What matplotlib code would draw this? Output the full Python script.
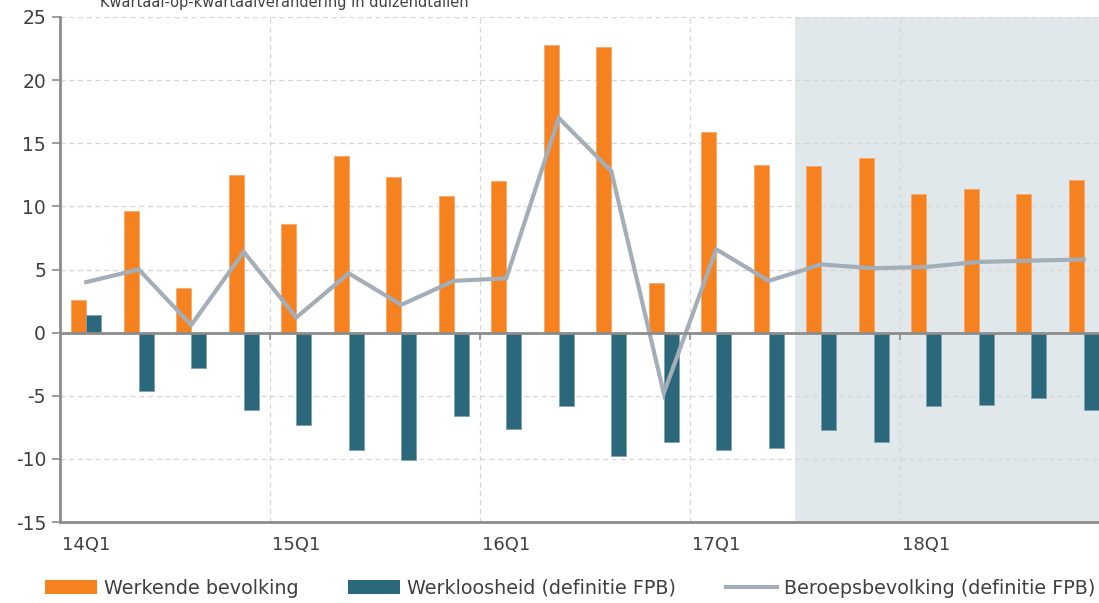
import matplotlib
matplotlib.use("Agg")
import matplotlib.pyplot as plt
import numpy as np
from matplotlib.patches import Patch
from matplotlib.lines import Line2D

plt.rcParams["font.family"] = ["DejaVu Sans"]

# quarters 14Q1 .. 18Q4
quarters = [f"{y}Q{q}" for y in range(14, 19) for q in range(1, 5)]
werkende = [2.6, 9.6, 3.5, 12.5, 8.6, 14.0, 12.3, 10.8, 12.0, 22.8,
            22.6, 3.9, 15.9, 13.3, 13.2, 13.8, 11.0, 11.4, 11.0, 12.1]
werkloos = [1.4, -4.6, -2.8, -6.1, -7.3, -9.3, -10.1, -6.6, -7.6, -5.8,
            -9.8, -8.7, -9.3, -9.1, -7.7, -8.7, -5.8, -5.7, -5.2, -6.1]
beroeps = [4.0, 5.0, 0.6, 6.4, 1.2, 4.7, 2.2, 4.1, 4.3, 17.0,
           12.8, -4.8, 6.6, 4.1, 5.4, 5.1, 5.2, 5.6, 5.7, 5.8]
forecast_start = "17Q3"
yticks = [-15, -10, -5, 0, 5, 10, 15, 20, 25]

ORANGE = "#F5821F"
TEAL = "#2C687B"
LINE = "#A3AEB9"
SHADE = "#E1E8EB"
AXC = "#8C8C8C"
TXT = "#404040"

W, H = 1099, 603
fig = plt.figure(figsize=(W / 100, H / 100), dpi=100)
step = 52.5  # px per quarter
ax = fig.add_axes([60 / W, (H - 522) / H, 1039 / W, 505 / H])

x = np.arange(len(quarters))
bw = 0.29
ax.bar(x - bw / 2, werkende, width=bw, color=ORANGE, edgecolor="#F8A868",
       linewidth=0.6, zorder=3)
ax.bar(x + bw / 2, werkloos, width=bw, color=TEAL, edgecolor="#7FA2AE",
       linewidth=0.6, zorder=3)
ax.plot(x, beroeps, color=LINE, linewidth=3, zorder=4, solid_joinstyle="miter")

xmin = -0.5
xmax = xmin + 1039 / step
fs = quarters.index(forecast_start) - 0.5
ax.axvspan(fs, xmax + 1, color=SHADE, zorder=0, linewidth=0)

ax.set_xlim(xmin, xmax)
ax.set_ylim(-15, 25)

# grids
for v in yticks[1:]:
    if v != 0:
        ax.axhline(v, color="#D6D6D6", linestyle=(0, (4, 3)), linewidth=0.9, zorder=1)
bounds = [i - 0.5 for i in range(4, len(quarters), 4)]
for b in bounds:
    ax.axvline(b, color="#D6D6D6", linestyle=(0, (4, 3)), linewidth=0.9, zorder=1)
ax.axhline(0, color=AXC, linewidth=2, zorder=5)
ax.vlines(bounds, -0.6, 0, color=AXC, linewidth=1.2, zorder=5)

for s in ["top", "right"]:
    ax.spines[s].set_visible(False)
ax.spines["left"].set_color(AXC)
ax.spines["left"].set_linewidth(2)
ax.spines["bottom"].set_color(AXC)
ax.spines["bottom"].set_linewidth(2)

ax.set_yticks(yticks)
ax.set_yticklabels([str(v) for v in yticks])
ax.tick_params(axis="y", colors=AXC, length=6, width=1.2, labelcolor=TXT,
               labelsize=13.5, pad=4)
ax.set_xticks(x[::4])
ax.set_xticklabels(quarters[::4])
ax.tick_params(axis="x", length=0, labelcolor=TXT, labelsize=13, pad=10)

fig.text(100 / W, 1 - 7 / H, "Kwartaal-op-kwartaalverandering in duizendtallen",
         fontsize=10.5, color=TXT, va="baseline", ha="left")

handles = [Patch(facecolor=ORANGE, edgecolor="none"),
           Patch(facecolor=TEAL, edgecolor="none"),
           Line2D([0], [0], color=LINE, linewidth=3)]
labels = ["Werkende bevolking", "Werkloosheid (definitie FPB)",
          "Beroepsbevolking (definitie FPB)"]
leg = fig.legend(handles, labels, loc="center",
                 bbox_to_anchor=(0.5 + 21 / W, 15 / H),
                 ncol=3, frameon=False, fontsize=13.8, handlelength=2.7,
                 handleheight=0.7, handletextpad=0.35, columnspacing=2.6)
for t in leg.get_texts():
    t.set_color(TXT)

fig.savefig("out.png", dpi=100, facecolor="white")
